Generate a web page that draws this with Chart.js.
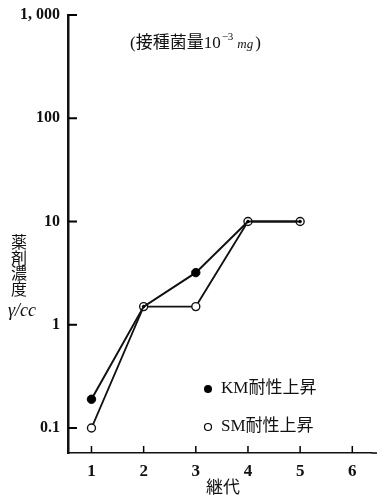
<!DOCTYPE html>
<html><head><meta charset="utf-8">
<script src="https://cdn.jsdelivr.net/npm/chart.js@4"></script>
<style>html,body{margin:0;padding:0;background:#fff}#wrap{width:377px;height:496px}</style>
</head><body><div id="wrap"><canvas id="c" width="377" height="496"></canvas></div>
<script>
const generations = [1, 2, 3, 4, 5];
const kmValues = [0.19, 1.5, 3.2, 10, 10];
const smValues = [0.1, 1.5, 1.5, 10, 10];
const yTickValues = [0.1, 1, 10, 100, 1000];
const yTickLabels = ['0.1', '1', '10', '100', '1, 000'];
const xTickValues = [1, 2, 3, 4, 5, 6];
const seriesNames = ['KM耐性上昇', 'SM耐性上昇'];

const SERIF = '"Liberation Serif", "DejaVu Serif", serif';
const CJK = '"Liberation Serif", "Noto Sans CJK JP", serif';

const decor = {
  id: 'decor',
  afterDraw(chart) {
    const ctx = chart.ctx;
    const xs = chart.scales.x, ys = chart.scales.y;
    const ca = chart.chartArea;
    ctx.save();
    ctx.strokeStyle = '#000';
    // extend x axis line to the canvas edge
    ctx.lineWidth = 1.5;
    ctx.beginPath(); ctx.moveTo(ca.right, ca.bottom); ctx.lineTo(chart.width, ca.bottom); ctx.stroke();
    ctx.lineWidth = 2;
    yTickValues.forEach(v => {
      const p = ys.getPixelForValue(v);
      ctx.beginPath(); ctx.moveTo(ca.left, p); ctx.lineTo(ca.left + 9, p); ctx.stroke();
    });
    ctx.lineWidth = 1.5;
    xTickValues.forEach(v => {
      const p = xs.getPixelForValue(v);
      ctx.beginPath(); ctx.moveTo(p, ca.bottom); ctx.lineTo(p, ca.bottom - 7); ctx.stroke();
    });
    ctx.fillStyle = '#111';
    ctx.textBaseline = 'middle';
    // title
    ctx.textAlign = 'left';
    ctx.font = '17px ' + CJK;
    const t1 = '(接種菌量10';
    ctx.fillText(t1, 130, 44);
    let w = ctx.measureText(t1).width;
    ctx.font = '11px ' + SERIF;
    ctx.fillText('−3', 130 + w + 1, 37);
    let w2 = ctx.measureText('−3').width;
    ctx.font = 'italic 13px ' + SERIF;
    ctx.fillText('mg', 130 + w + w2 + 5, 45);
    let w3 = ctx.measureText('mg').width;
    ctx.font = '17px ' + CJK;
    ctx.fillText(')', 130 + w + w2 + w3 + 7, 44);
    // y title
    ctx.textAlign = 'center';
    ctx.font = '16px "Noto Sans CJK JP", sans-serif';
    ['薬', '剤', '濃', '度'].forEach((ch, i) => ctx.fillText(ch, 19, 242 + i * 15.5));
    ctx.font = 'italic 18px ' + SERIF;
    ctx.fillText('γ/cc', 22, 311);
    // x title
    ctx.font = '17px "Noto Sans CJK JP", sans-serif';
    ctx.fillText('継代', 223, 487);
    // legend
    ctx.textAlign = 'left';
    ctx.font = '17px ' + CJK;
    ctx.beginPath(); ctx.arc(208, 389, 4, 0, Math.PI * 2); ctx.fillStyle = '#000'; ctx.fill();
    ctx.fillStyle = '#111';
    ctx.fillText(seriesNames[0], 221, 389);
    ctx.beginPath(); ctx.arc(208, 427, 3.5, 0, Math.PI * 2); ctx.lineWidth = 1.2; ctx.stroke();
    ctx.fillText(seriesNames[1], 221, 427);
    ctx.restore();
  }
};

new Chart(document.getElementById('c'), {
  type: 'line',
  data: {
    datasets: [
      {
        label: seriesNames[0],
        data: generations.map((g, i) => ({x: g, y: kmValues[i]})),
        borderColor: '#111', borderWidth: 2,
        pointBackgroundColor: '#000', pointBorderColor: '#000',
        pointRadius: kmValues.map((v, i) => v === smValues[i] ? 1.3 : 4.2),
        pointBorderWidth: 1,
        tension: 0
      },
      {
        label: seriesNames[1],
        data: generations.map((g, i) => ({x: g, y: smValues[i]})),
        borderColor: '#111', borderWidth: 1.8,
        pointBackgroundColor: '#fff', pointBorderColor: '#111',
        pointRadius: 4, pointBorderWidth: 1.4,
        tension: 0
      }
    ]
  },
  options: {
    responsive: false, animation: false,
    layout: {padding: {top: 15, right: 0, left: 0, bottom: 0}},
    plugins: {legend: {display: false}, tooltip: {enabled: false}, title: {display: false}},
    scales: {
      x: {
        type: 'linear', min: 0.55, max: 6.37,
        grid: {display: false},
        border: {display: true, color: '#111', width: 1.5},
        afterBuildTicks(s) { s.ticks = xTickValues.map(v => ({value: v})); },
        afterFit(s) { s.height = 43; },
        ticks: {color: '#111', font: {family: SERIF, size: 17, weight: 'bold'}, padding: 0, maxRotation: 0, autoSkip: false,
          callback: v => String(v)}
      },
      y: {
        type: 'logarithmic', min: 0.0573, max: 1000,
        grid: {display: false},
        border: {display: true, color: '#111', width: 2.5},
        afterBuildTicks(s) { s.ticks = yTickValues.map(v => ({value: v})); },
        afterFit(s) { s.width = 68; },
        ticks: {color: '#111', font: {family: SERIF, size: 16, weight: 'bold'}, padding: 0, autoSkip: false,
          callback: (v) => { const i = yTickValues.indexOf(v); return i >= 0 ? yTickLabels[i] : ''; }}
      }
    }
  },
  plugins: [decor]
});
</script></body></html>
